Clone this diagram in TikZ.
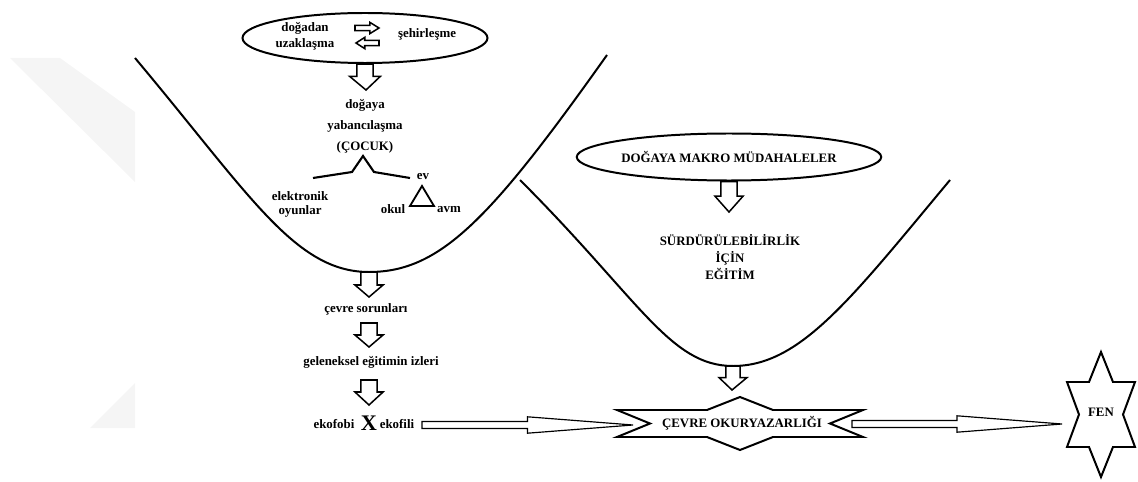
\documentclass[tikz,border=0pt]{standalone}
\usepackage{fontspec}
\setmainfont{Liberation Serif}
\usetikzlibrary{calc}
\usetikzlibrary{shapes.geometric}

\begin{document}
\begin{tikzpicture}[x=0.03cm, y=-0.03cm,
	font=\fontsize{11}{12}\selectfont\bfseries,
	txt/.style={align=center, inner sep=0pt},
	curveLine/.style={line width=1.7pt},
	blockDown/.style n args={3}{draw, fill=white, line width=1.3pt, line join=miter,
		to path={let \p1=(\tikztostart), \p2=(\tikztotarget), \p3=($(\tikztotarget)!#3!(\tikztostart)$) in
			(\x1-#1,\y1) -- (\x1-#1,\y3) -- (\x1-#2,\y3) -- (\x2,\y2) -- (\x1+#2,\y3) -- (\x1+#1,\y3) -- (\x1+#1,\y1) -- cycle}},
	flatArrow/.style n args={3}{draw, fill=white, line width=1pt, line join=miter,
		to path={let \p1=(\tikztostart), \p2=(\tikztotarget), \p3=($(\tikztotarget)!#3!(\tikztostart)$) in
			(\x1,\y1+#1) -- (\x3,\y1+#1) -- (\x3,\y1+#2) -- (\x2,\y2) -- (\x3,\y1-#2) -- (\x3,\y1-#1) -- (\x1,\y1-#1) -- cycle}},
	starLine/.style={draw, fill=white, line width=1.7pt, line join=miter}]

	\useasboundingbox (0,0) rectangle (1138,482);

	% watermark
	\fill [black!4] (10,58) -- (60,58) -- (135,112) -- (135,182) -- cycle;
	\fill [black!4] (90,428) -- (135,383) -- (135,428) -- cycle;

	% left valley
	\coordinate (leftBottom) at (369,272);
	\draw [curveLine] (135,58) .. controls (250,195) and (295,272) .. (leftBottom) .. controls (440,272) and (490,220) .. (607,55);

	% right valley
	\coordinate (rightBottom) at (733,366);
	\draw [curveLine] (520,180) .. controls (640,300) and (670,366) .. (rightBottom) .. controls (800,366) and (850,300) .. (950,180);

	% nature ellipse
	\node [draw, ellipse, curveLine, minimum width=7.35cm, minimum height=1.5cm, inner sep=0pt] (natureEllipse) at (365,38) {};
	\node [txt, font=\fontsize{11}{13.6}\selectfont\bfseries] (awayNature) at (305,36) {doğadan\\uzaklaşma};
	\node [txt] (urbanisation) at (427,34) {şehirleşme};
	\coordinate (rightArrowStart) at (355,28);
	\coordinate (rightArrowTip) at (379,28);
	\coordinate (leftArrowStart) at (379,43);
	\coordinate (leftArrowTip) at (356,43);
	\draw [flatArrow={2.3pt}{4.8pt}{0.38}, line width=1.3pt] (rightArrowStart) to (rightArrowTip);
	\draw [flatArrow={2.3pt}{4.8pt}{0.38}, line width=1.3pt] (leftArrowStart) to (leftArrowTip);

	% child
	\coordinate (alienTip) at (366,90);
	\draw [blockDown={7pt}{13pt}{0.52}] (natureEllipse.south) to (alienTip);
	\node [txt, font=\fontsize{11}{17.9}\selectfont\bfseries] (alienation) at (365,126) {doğaya\\yabancılaşma\\(ÇOCUK)};

	% branches
	\draw [line width=1.8pt, line join=miter] (313,178) -- (352,172) -- (363,156) -- (374,172) -- (410,178);
	\node [txt, font=\fontsize{11}{12}\selectfont\bfseries] (games) at (300,204) {elektronik\\oyunlar};
	\node [txt] (home) at (423,177) {ev};
	\node [txt] (school) at (393,209) {okul};
	\node [txt] (mall) at (449,210) {avm};
	\draw [line width=1.6pt, line join=miter] (422,186) -- (434,206) -- (410,206) -- cycle;

	% chain under left valley
	\coordinate (problemTip) at (369,297);
	\draw [blockDown={7pt}{12pt}{0.48}] (leftBottom) to (problemTip);
	\node [txt] (problems) at (366,309) {çevre sorunları};

	\coordinate (traceStart) at (369,323);
	\coordinate (traceTip) at (369,347);
	\draw [blockDown={7pt}{12pt}{0.5}] (traceStart) to (traceTip);
	\node [txt] (traces) at (371,362) {geleneksel eğitimin izleri};

	\coordinate (phobiaStart) at (369,380);
	\coordinate (phobiaTip) at (369,405);
	\draw [blockDown={7pt}{12pt}{0.52}] (phobiaStart) to (phobiaTip);
	\node [txt] (ecophobia) at (334,424) {ekofobi};
	\node [txt, font=\fontsize{19}{20}\selectfont\bfseries] (versus) at (369,423) {X};
	\node [txt] (ecophilia) at (397,424) {ekofili};

	% macro interventions
	\node [draw, ellipse, curveLine, minimum width=7.38cm, minimum height=1.41cm, inner sep=0pt] (macroEllipse) at (729,157) {DOĞAYA MAKRO MÜDAHALELER};
	\coordinate (sustainTip) at (729,212);
	\draw [blockDown={7pt}{12pt}{0.52}] (macroEllipse.south) to (sustainTip);
	\node [txt, font=\fontsize{11}{14.5}\selectfont\bfseries] (sustainability) at (730,257) {SÜRDÜRÜLEBİLİRLİK\\İÇİN\\EĞİTİM};

	\coordinate (literacyTip) at (732,390);
	\draw [blockDown={6pt}{12pt}{0.52}] (rightBottom) to (literacyTip);

	% literacy star
	\draw [starLine] (617,410) -- (707,410) -- (740,397) -- (773,410) -- (863,410) -- (830,423.5)
		-- (863,437) -- (773,437) -- (740,450) -- (707,437) -- (617,437) -- (650,423.5) -- cycle;
	\node [txt] (literacy) at (742,423) {ÇEVRE OKURYAZARLIĞI};

	% science star
	\draw [starLine] (1101,352) -- (1113,382) -- (1135,382) -- (1123,414.5) -- (1135,447) -- (1113,447)
		-- (1101,477) -- (1089,447) -- (1067,447) -- (1079,414.5) -- (1067,382) -- (1089,382) -- cycle;
	\node [txt] (science) at (1101,412) {FEN};

	% long arrows
	\coordinate (philiaArrowStart) at (422,425);
	\coordinate (philiaArrowTip) at (633,425);
	\draw [flatArrow={3pt}{7pt}{0.5}] (philiaArrowStart) to (philiaArrowTip);
	\coordinate (scienceArrowStart) at (852,424);
	\coordinate (scienceArrowTip) at (1062,424);
	\draw [flatArrow={3pt}{7pt}{0.5}] (scienceArrowStart) to (scienceArrowTip);

\end{tikzpicture}
\end{document}
